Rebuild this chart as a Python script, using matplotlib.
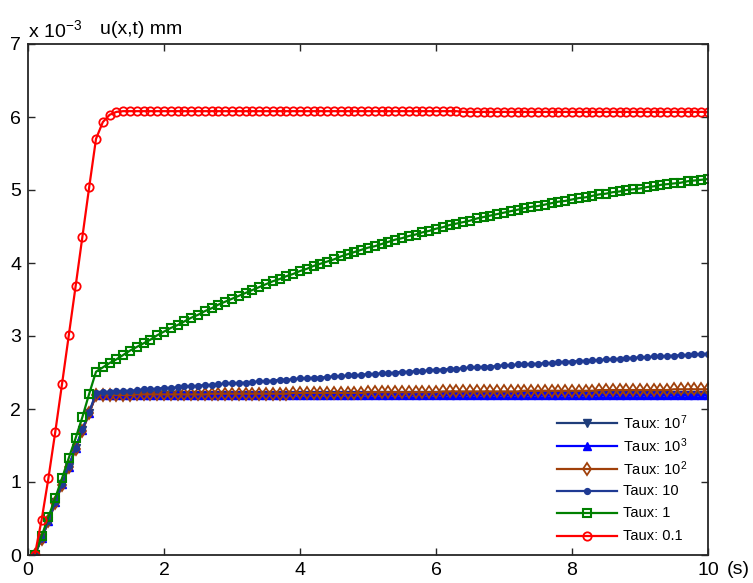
import numpy as np
import matplotlib
matplotlib.use('Agg')
import matplotlib.pyplot as plt

plt.rcParams['font.family'] = ['Liberation Sans', 'DejaVu Sans']
plt.rcParams['mathtext.fontset'] = 'custom'
plt.rcParams['mathtext.rm'] = 'Liberation Sans'
plt.rcParams['mathtext.it'] = 'Liberation Sans:italic'

#time samples (s)
t = np.round(np.arange(1, 101) * 0.1, 1)

#displacement u(x,t) in units of 1e-3 mm
u_taux_1e7 = [0.00, 0.23, 0.47, 0.72, 0.97, 1.21, 1.46, 1.71, 1.95,
              2.19, 2.19, 2.19, 2.19, 2.19, 2.19, 2.19, 2.19, 2.19, 2.19,
              2.19, 2.19, 2.19, 2.19, 2.19, 2.19, 2.19, 2.19, 2.19, 2.19,
              2.19, 2.19, 2.19, 2.19, 2.19, 2.19, 2.19, 2.19, 2.19, 2.19,
              2.19, 2.19, 2.19, 2.19, 2.19, 2.19, 2.19, 2.19, 2.19, 2.19,
              2.19, 2.19, 2.19, 2.19, 2.19, 2.19, 2.19, 2.19, 2.19, 2.19,
              2.19, 2.19, 2.19, 2.19, 2.19, 2.19, 2.19, 2.19, 2.19, 2.19,
              2.19, 2.19, 2.19, 2.19, 2.19, 2.19, 2.19, 2.19, 2.19, 2.19,
              2.19, 2.19, 2.19, 2.19, 2.19, 2.19, 2.19, 2.19, 2.19, 2.19,
              2.19, 2.19, 2.19, 2.19, 2.19, 2.19, 2.19, 2.19, 2.19, 2.19,
              2.19]
u_taux_1e3 = [0.00, 0.23, 0.47, 0.72, 0.97, 1.21, 1.46, 1.71, 1.95,
              2.19, 2.19, 2.19, 2.19, 2.19, 2.19, 2.19, 2.19, 2.19, 2.19,
              2.19, 2.19, 2.19, 2.19, 2.19, 2.19, 2.19, 2.19, 2.19, 2.19,
              2.19, 2.19, 2.19, 2.19, 2.19, 2.19, 2.19, 2.19, 2.19, 2.19,
              2.19, 2.19, 2.19, 2.19, 2.19, 2.19, 2.19, 2.19, 2.19, 2.19,
              2.19, 2.19, 2.19, 2.19, 2.19, 2.19, 2.19, 2.19, 2.19, 2.19,
              2.19, 2.19, 2.19, 2.19, 2.19, 2.19, 2.19, 2.19, 2.19, 2.19,
              2.19, 2.19, 2.19, 2.19, 2.19, 2.19, 2.19, 2.19, 2.19, 2.19,
              2.19, 2.19, 2.19, 2.19, 2.19, 2.19, 2.19, 2.19, 2.19, 2.19,
              2.19, 2.19, 2.19, 2.19, 2.19, 2.19, 2.19, 2.19, 2.19, 2.19,
              2.19]
u_taux_1e2 = [0.00, 0.22, 0.46, 0.71, 0.96, 1.20, 1.45, 1.70, 1.94,
              2.19, 2.19, 2.19, 2.19, 2.19, 2.19, 2.20, 2.20, 2.20, 2.20,
              2.20, 2.20, 2.20, 2.20, 2.20, 2.20, 2.20, 2.21, 2.21, 2.21,
              2.21, 2.21, 2.21, 2.21, 2.21, 2.21, 2.21, 2.21, 2.21, 2.22,
              2.22, 2.22, 2.22, 2.22, 2.22, 2.22, 2.22, 2.22, 2.22, 2.22,
              2.23, 2.23, 2.23, 2.23, 2.23, 2.23, 2.23, 2.23, 2.23, 2.23,
              2.23, 2.24, 2.24, 2.24, 2.24, 2.24, 2.24, 2.24, 2.24, 2.24,
              2.24, 2.24, 2.24, 2.25, 2.25, 2.25, 2.25, 2.25, 2.25, 2.25,
              2.25, 2.25, 2.25, 2.25, 2.26, 2.26, 2.26, 2.26, 2.26, 2.26,
              2.26, 2.26, 2.26, 2.26, 2.26, 2.27, 2.27, 2.27, 2.27, 2.27,
              2.27]
u_taux_10 = [0.00, 0.23, 0.47, 0.72, 0.97, 1.22, 1.47, 1.72, 1.96,
             2.22, 2.23, 2.23, 2.24, 2.25, 2.25, 2.26, 2.27, 2.27, 2.28,
             2.29, 2.29, 2.30, 2.31, 2.31, 2.32, 2.33, 2.33, 2.34, 2.35,
             2.35, 2.36, 2.36, 2.37, 2.38, 2.38, 2.39, 2.40, 2.40, 2.41,
             2.42, 2.42, 2.43, 2.43, 2.44, 2.45, 2.45, 2.46, 2.46, 2.47,
             2.48, 2.48, 2.49, 2.49, 2.50, 2.51, 2.51, 2.52, 2.52, 2.53,
             2.54, 2.54, 2.55, 2.55, 2.56, 2.57, 2.57, 2.58, 2.58, 2.59,
             2.60, 2.60, 2.61, 2.61, 2.62, 2.62, 2.63, 2.63, 2.64, 2.65,
             2.65, 2.66, 2.66, 2.67, 2.67, 2.68, 2.68, 2.69, 2.70, 2.70,
             2.71, 2.71, 2.72, 2.72, 2.73, 2.73, 2.74, 2.74, 2.75, 2.75,
             2.76]
u_taux_1 = [0.00, 0.26, 0.52, 0.78, 1.05, 1.33, 1.60, 1.89, 2.21,
            2.51, 2.57, 2.63, 2.68, 2.74, 2.80, 2.85, 2.90, 2.95, 3.01,
            3.06, 3.11, 3.15, 3.20, 3.25, 3.29, 3.34, 3.38, 3.43, 3.47,
            3.51, 3.55, 3.59, 3.63, 3.67, 3.71, 3.75, 3.78, 3.82, 3.85,
            3.89, 3.92, 3.96, 3.99, 4.02, 4.05, 4.09, 4.12, 4.15, 4.18,
            4.21, 4.23, 4.26, 4.29, 4.32, 4.34, 4.37, 4.39, 4.42, 4.44,
            4.47, 4.49, 4.52, 4.54, 4.56, 4.58, 4.61, 4.63, 4.65, 4.67,
            4.69, 4.71, 4.73, 4.75, 4.77, 4.78, 4.80, 4.82, 4.84, 4.85,
            4.87, 4.89, 4.90, 4.92, 4.94, 4.95, 4.97, 4.98, 5.00, 5.01,
            5.02, 5.04, 5.05, 5.07, 5.08, 5.09, 5.10, 5.12, 5.13, 5.14,
            5.15]
u_taux_01 = [0.00, 0.48, 1.05, 1.68, 2.34, 3.01, 3.68, 4.36, 5.04,
             5.70, 5.93, 6.03, 6.07, 6.08, 6.08, 6.08, 6.08, 6.08, 6.08,
             6.08, 6.08, 6.08, 6.08, 6.08, 6.08, 6.08, 6.08, 6.08, 6.08,
             6.08, 6.08, 6.08, 6.08, 6.08, 6.08, 6.08, 6.08, 6.08, 6.08,
             6.08, 6.08, 6.08, 6.08, 6.08, 6.08, 6.08, 6.08, 6.08, 6.08,
             6.08, 6.08, 6.08, 6.08, 6.08, 6.08, 6.08, 6.08, 6.08, 6.08,
             6.08, 6.08, 6.08, 6.08, 6.07, 6.07, 6.07, 6.07, 6.07, 6.07,
             6.07, 6.07, 6.07, 6.07, 6.07, 6.07, 6.07, 6.07, 6.07, 6.07,
             6.07, 6.07, 6.07, 6.07, 6.07, 6.07, 6.07, 6.07, 6.07, 6.07,
             6.07, 6.07, 6.07, 6.07, 6.07, 6.07, 6.07, 6.07, 6.07, 6.07,
             6.07]

labels = ['Taux: 10$^7$', 'Taux: 10$^3$', 'Taux: 10$^2$', 'Taux: 10', 'Taux: 1', 'Taux: 0.1']
series = [u_taux_1e7, u_taux_1e3, u_taux_1e2, u_taux_10, u_taux_1, u_taux_01]

#matlab-ish line styles
styles = [
    dict(color='#1f3d7a', marker='v', ms=6, mfc='#1f3d7a'),
    dict(color='#0000ff', marker='^', ms=6, mfc='#0000ff'),
    dict(color='#a0400a', marker='d', ms=6, mfc='none', mew=1.3),
    dict(color='#1f3a93', marker='o', ms=4.2, mfc='#1f3a93'),
    dict(color='#008000', marker='s', ms=5.5, mfc='none', mew=1.5),
    dict(color='#ff0000', marker='o', ms=6, mfc='none', mew=1.3),
]

fig = plt.figure(figsize=(7.53, 5.83), dpi=100)
ax = fig.add_axes([28/753, 28/583, 680/753, 511/583])

for u, lab, st in zip(series, labels, styles):
    ax.plot(t, u, lw=1.6, label=lab, **st)

ax.set_xlim(0, 10)
ax.set_ylim(0, 7)
ax.set_xticks(np.arange(0, 11, 2))
ax.set_yticks(np.arange(0, 8, 1))
ax.tick_params(direction='in', top=True, right=True, length=5, width=1.0,
               labelsize=14, pad=5, color='#262626')
for sp in ax.spines.values():
    sp.set_linewidth(1.3)
    sp.set_color('#262626')

#legend drawn by hand (matlab style, no box, even row spacing)
#pixel spots converted to axes fractions
def px2ax(px, py):
    return (px - 28) / 680.0, (555 - py) / 511.0

row_py = [423, 446, 468.5, 491, 513, 535.5]
for lab, st, py in zip(labels, styles, row_py):
    x0, y = px2ax(557, py)
    x1, _ = px2ax(617, py)
    xm, _ = px2ax(587, py)
    xt, _ = px2ax(623, py)
    ax.plot([x0, x1], [y, y], lw=1.6, color=st['color'], transform=ax.transAxes, clip_on=False)
    mst = dict(st)
    mst.pop('color')
    ax.plot([xm], [y], ls='none', color=st['color'], transform=ax.transAxes, clip_on=False, **mst)
    ax.text(xt, y, lab, transform=ax.transAxes, fontsize=10.5, va='center', ha='left')

fig.text(28/753, 1 - 30/583, 'x 10$^{-3}$', fontsize=14, va='center', ha='left')
fig.text(100/753, 1 - 30/583, 'u(x,t) mm', fontsize=14, va='center', ha='left')
fig.text(727/753, 1 - 570/583, '(s)', fontsize=14, va='center', ha='left')

fig.savefig('out.png', dpi=100)
